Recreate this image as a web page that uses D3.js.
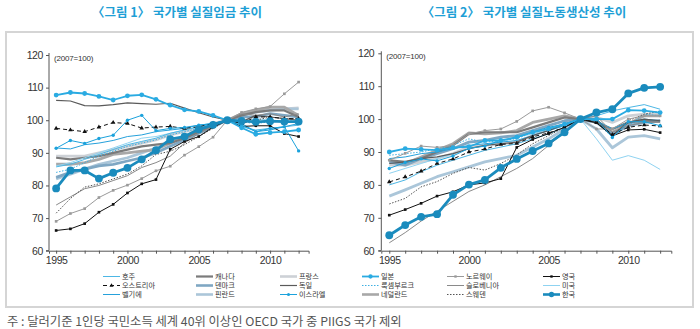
<!DOCTYPE html>
<html>
<head>
<meta charset="utf-8">
<script src="https://cdn.jsdelivr.net/npm/d3@7"></script>
<style>
  html, body { margin: 0; padding: 0; background: #fff; }
  svg { display: block; }
  text { font-family: "Liberation Sans", Arial, sans-serif; }
  .kr { font-family: "Noto Sans CJK KR", "Noto Sans", sans-serif; }
  .kr-small { font-family: "Liberation Sans", "Noto Sans CJK KR", sans-serif; }
</style>
</head>
<body>
<svg id="chart" width="700" height="329"></svg>
<script>
// ---- data: index values (2007 = 100), 1995–2012 ----
const years = d3.range(1995, 2013);
const xTickLabels = [1995, 2000, 2005, 2010];
const yTicks = [60, 70, 80, 90, 100, 110, 120];

const countryCodes = ["AUS","AUT","BEL","CAN","DNK","FIN","FRA","DEU","ISR","JPN","LUX","NLD","NOR","SVN","SWE","GBR","USA","KOR"];
const countryNames = ["호주","오스트리아","벨기에","캐나다","덴마크","핀란드","프랑스","독일","이스라엘","일본","룩셈부르크","네덜란드","노르웨이","슬로베니아","스웨덴","영국","미국","한국"];

// real wages
const wageAUS = [85.7, 86.5, 88, 89.5, 91, 92.5, 93.5, 94.5, 96, 97, 98, 99, 100, 98, 97, 97.5, 98, 98.5];
const wageAUT = [97.5, 97.0, 96.5, 97.9, 99.3, 99.0, 97.6, 97.9, 98.1, 97.5, 98.0, 99.0, 100, 99.0, 101.0, 101.0, 100.5, 100.5];
const wageBEL = [91.5, 91.2, 92.5, 93, 93.8, 95, 95.5, 96.5, 97, 97.5, 98.5, 99, 100, 99, 96.5, 97, 98, 99];
const wageCAN = [88.5, 88, 88.5, 89, 90, 91, 92, 92.5, 93, 94.5, 96.5, 98.5, 100, 101.5, 102.5, 103, 103, 101];
const wageDNK = [82.5, 84, 85, 86, 86.5, 87.5, 88.5, 90, 92, 94, 96, 98, 100, 101, 101, 102, 101.5, 101];
const wageFIN = [82, 83.5, 85, 86.5, 87.5, 88.5, 90, 91.5, 93, 95, 96.5, 98.5, 100, 101.5, 102.5, 103, 103.5, 103.5];
const wageFRA = [89, 89, 89, 90, 91, 92, 93, 94, 95.5, 96.5, 97.5, 99, 100, 101.5, 103, 103.5, 103.5, 103.8];
const wageDEU = [106.1, 105.9, 104.5, 104.4, 104.8, 105.3, 105.1, 104.9, 105.2, 103.7, 102.3, 101, 100, 99.5, 101.5, 101, 100.5, 100];
const wageISR = [91.4, 93.8, 92.9, 94.4, 95.4, 100, 101.5, 96.8, 97.5, 97.8, 98.5, 99, 100, 98.5, 96.5, 97.5, 98, 90.6];
const wageJPN = [107.7, 108.5, 108.2, 107.3, 106.2, 107.5, 107.8, 106.4, 104.6, 103.2, 102.7, 101.5, 100, 97.7, 95.7, 96.2, 96.5, 97];
const wageLUX = [84, 85, 87, 89, 90.5, 92, 93, 94, 95.5, 96.5, 97.5, 99, 100, 99.5, 99, 99.5, 100, 99.5];
const wageNLD = [86.5, 86.5, 87, 88, 89.5, 90, 90.5, 91, 93, 95, 97, 98.5, 100, 102, 103, 104, 104, 101.5];
const wageNOR = [69.0, 71.4, 72.9, 76.3, 78.5, 80.1, 82.1, 84.5, 85.9, 89.3, 91.9, 94.8, 100, 102.4, 103.5, 104.2, 108.1, 111.7];
const wageSVN = [74, 76.5, 79, 80, 81.5, 83, 85.5, 87, 89, 93, 96, 98, 100, 102, 101.5, 102, 101, 102];
const wageSWE = [71.5, 76, 79.5, 80.5, 82, 83.5, 86, 89.5, 90.5, 92.5, 95, 97.5, 100, 99, 100, 101, 100.5, 100.5];
const wageGBR = [66.2, 66.7, 68.3, 71.8, 74.2, 77.7, 80.5, 81.8, 91.1, 93.5, 95.0, 97.9, 100, 98.1, 98.3, 98.3, 95.9, 95.0];
const wageUSA = [86, 87, 88.5, 90, 91.5, 93, 94.5, 95, 96, 97, 98, 99, 100, 99.5, 100.5, 100, 99.5, 99.5];
const wageKOR = [79.1, 84.6, 84.6, 82.1, 83.9, 85.4, 88.0, 90.8, 94.2, 95.0, 97.2, 98.6, 100, 99.8, 99.5, 99.7, 99.6, 99.6];

// real labour productivity
const prodAUS = [80, 81.5, 84, 86, 87.5, 89, 90.5, 91.5, 92.5, 94, 95.5, 97.5, 100, 101, 102.5, 103.5, 104.4, 103];
const prodAUT = [80.9, 82.4, 84.2, 86.5, 87.9, 90.0, 90.9, 92.3, 92.6, 94.6, 95.8, 97.5, 100, 99, 95.3, 97.5, 98.2, 97.9];
const prodBEL = [88, 88.5, 89.5, 90, 91, 92, 92.5, 93, 93.5, 95, 96.5, 98, 100, 99.5, 97, 99, 100, 99.5];
const prodCAN = [87.5, 87, 88, 90, 92, 95.5, 96, 96, 96, 97.5, 99, 100.5, 100, 99, 97, 99, 99.5, 99.5];
const prodDNK = [87, 86, 88, 89.5, 91, 93, 93.5, 94.5, 95, 96.5, 98, 99.5, 100, 99, 95.5, 98, 99, 99.5];
const prodFIN = [76.6, 78.5, 80.5, 82.5, 84, 85.5, 87, 88, 89, 91.5, 94, 97, 100, 97, 91.3, 94.5, 95, 94];
const prodFRA = [86, 86, 87, 88, 89.5, 91.5, 92, 92.5, 93, 95, 97, 98.5, 100, 100.5, 99, 101, 101.5, 101.5];
const prodDEU = [86.5, 87, 88, 88.5, 89.5, 91, 92, 92.5, 93, 95, 96.5, 98.5, 100, 100, 95, 99, 100, 99.5];
const prodISR = [85.0, 86.8, 87.9, 87.3, 88.8, 91.1, 91.8, 93.6, 94.3, 96.1, 97.5, 98.5, 100, 100, 94.4, 99.2, 99.2, 98];
const prodJPN = [90.0, 91.0, 90.8, 90.6, 91.3, 91.6, 93.5, 93.5, 94.5, 96, 97, 98.5, 100, 100, 100, 102.7, 102.6, 102];
const prodLUX = [89, 89.5, 90, 91, 92, 94, 93, 93.5, 94, 96, 97, 98.5, 100, 99, 94.5, 98, 101.5, 101];
const prodNLD = [87, 86.5, 88.5, 90.5, 92.5, 95.8, 95.5, 95.8, 96.5, 99, 100, 101, 100, 99.5, 96, 98.5, 101, 101];
const prodNOR = [87.5, 89.6, 91.8, 91.4, 92, 95.5, 96.5, 97, 99.3, 102.5, 103.6, 101.9, 100, 97, 97, 100, 101, 101];
const prodSVN = [62.4, 65.5, 69, 72, 75, 78, 80, 82.5, 85, 88, 92, 96, 100, 101, 96, 98, 99, 99];
const prodSWE = [74.2, 75.9, 79.4, 81, 83.5, 85.3, 84.5, 86.5, 89.1, 92.5, 95, 97.5, 100, 99, 95, 99.5, 101.5, 102.4];
const prodGBR = [70.8, 72.5, 74.4, 76.6, 77.9, 80, 80.6, 81.9, 91.4, 93.8, 95.6, 97.5, 100, 98.9, 94.9, 96.7, 96.9, 95.9];
const prodUSA = [83.5, 85, 86.5, 88, 89.5, 91, 92, 93, 94.5, 95.5, 96.5, 98, 100, 94, 87.5, 88.9, 87.5, 84.7];
const prodKOR = [64.7, 67.8, 70.3, 71.1, 77.0, 80.1, 81.5, 85.2, 87.9, 90.3, 92.6, 96.0, 100, 102.0, 103.0, 107.8, 109.5, 109.8];

const wageSeries = [wageAUS, wageAUT, wageBEL, wageCAN, wageDNK, wageFIN, wageFRA, wageDEU, wageISR, wageJPN, wageLUX, wageNLD, wageNOR, wageSVN, wageSWE, wageGBR, wageUSA, wageKOR];
const prodSeries = [prodAUS, prodAUT, prodBEL, prodCAN, prodDNK, prodFIN, prodFRA, prodDEU, prodISR, prodJPN, prodLUX, prodNLD, prodNOR, prodSVN, prodSWE, prodGBR, prodUSA, prodKOR];

// ---- line styles per country ----
const styles = {
  AUS: { color: "#4db7e5", width: 1 },
  AUT: { color: "#111", width: 1, dash: "4,3", marker: "triangle", msize: 9 },
  BEL: { color: "#26a1db", width: 1 },
  CAN: { color: "#7b7b7b", width: 2.2 },
  DNK: { color: "#7fa7c3", width: 2.8 },
  FIN: { color: "#abc6d9", width: 2.8 },
  FRA: { color: "#cdd1d6", width: 2.8 },
  DEU: { color: "#5a5a5a", width: 1.2 },
  ISR: { color: "#1ba2dc", width: 1, marker: "circle", msize: 9 },
  JPN: { color: "#2aabe2", width: 1.8, marker: "circle", msize: 18 },
  LUX: { color: "#3fb0e2", width: 1, dash: "1.5,1.5" },
  NLD: { color: "#a8a8a8", width: 2.8 },
  NOR: { color: "#9a9a9a", width: 1, marker: "square", msize: 7 },
  SVN: { color: "#8a8a8a", width: 1 },
  SWE: { color: "#555", width: 1, dash: "1.5,1.5" },
  GBR: { color: "#111", width: 1, marker: "square", msize: 7 },
  USA: { color: "#8fd3f1", width: 1 },
  KOR: { color: "#1a8bbd", width: 2.8, marker: "circle", msize: 48 }
};
// drawing order: broad pale lines under thin and marked lines
const drawOrder = ["FRA","FIN","NLD","DNK","CAN","USA","AUS","BEL","LUX","SVN","DEU","SWE","NOR","GBR","AUT","ISR","JPN","KOR"];

const svg = d3.select("#chart");

// outer frame
svg.append("rect")
  .attr("x", 6).attr("y", 32).attr("width", 687).attr("height", 275)
  .attr("fill", "none").attr("stroke", "#d5d5d5").attr("stroke-width", 2);

const symbolType = { circle: d3.symbolCircle, square: d3.symbolSquare, triangle: d3.symbolTriangle };

function drawPanel(opts) {
  const g = svg.append("g");
  const x = d3.scaleLinear().domain([1994.5, 2012.7]).range(opts.xRange);
  const y = d3.scaleLinear().domain([60, 120]).range(opts.yRange);

  // title
  svg.append("text").attr("class", "kr")
    .attr("x", opts.titleX).attr("y", 17)
    .attr("text-anchor", "middle")
    .attr("font-size", 12.5).attr("font-weight", 700)
    .attr("fill", "#1e9fd6")
    .text(opts.title);

  // axes
  const xAxis = d3.axisBottom(x)
    .tickValues(years)
    .tickSize(3).tickPadding(3)
    .tickFormat(d => xTickLabels.includes(d) ? d : "");
  const gx = g.append("g").attr("transform", `translate(0,${opts.yRange[0]})`).call(xAxis);
  gx.select(".domain").attr("stroke", "#555");
  gx.selectAll(".tick line").attr("stroke", "#555");
  gx.selectAll("text").attr("font-size", 10.5).attr("fill", "#333")
    .attr("font-family", "Liberation Sans, Arial, sans-serif").attr("letter-spacing", -0.4);

  const yAxis = d3.axisLeft(y).tickValues(yTicks).tickSize(3).tickPadding(opts.yPad);
  const gy = g.append("g").attr("transform", `translate(${opts.xRange[0]},0)`).call(yAxis);
  gy.select(".domain").attr("d", `M-3,${y(60)}H0V${y(120) - 2}`).attr("stroke", "#555");
  gy.selectAll(".tick line").attr("stroke", "#555");
  gy.selectAll("text").attr("font-size", 10.5).attr("fill", "#333")
    .attr("font-family", "Liberation Sans, Arial, sans-serif").attr("letter-spacing", -0.4);

  g.append("text")
    .attr("x", opts.xRange[0] + 5).attr("y", y(120) + 6)
    .attr("font-size", 8).attr("fill", "#333").attr("letter-spacing", -0.2)
    .text("(2007=100)");

  const line = d3.line().x((d, i) => x(years[i])).y(d => y(d));

  drawOrder.forEach(code => {
    const idx = countryCodes.indexOf(code);
    const vals = opts.series[idx];
    const s = styles[code];
    g.append("path")
      .datum(vals)
      .attr("d", line)
      .attr("fill", "none")
      .attr("stroke", s.color)
      .attr("stroke-width", s.width)
      .attr("stroke-dasharray", s.dash || null)
      .attr("stroke-linejoin", "round");
    if (s.marker) {
      g.append("g").selectAll("path")
        .data(vals)
        .join("path")
        .attr("transform", (d, i) => `translate(${x(years[i])},${y(d)})`)
        .attr("d", d3.symbol().type(symbolType[s.marker]).size(s.msize))
        .attr("fill", s.color);
    }
  });
}

drawPanel({
  title: "〈그림 1〉 국가별 실질임금 추이",
  titleX: 177,
  xRange: [49, 308.6],
  yRange: [250.7, 55],
  yPad: 3,
  series: wageSeries
});

drawPanel({
  title: "〈그림 2〉 국가별 실질노동생산성 추이",
  titleX: 524,
  xRange: [381.3, 671.3],
  yRange: [250.7, 53.3],
  yPad: 4,
  series: prodSeries
});

// legend: 6 columns x 3 rows
const legendCols = [103, 196, 280, 362, 447, 543];
const legendRows = [276.5, 285.5, 294.5];
const lg = svg.append("g");
countryCodes.forEach((code, i) => {
  const cx = legendCols[Math.floor(i / 3)];
  const cy = legendRows[i % 3];
  const s = styles[code];
  lg.append("line")
    .attr("x1", cx).attr("x2", cx + 17).attr("y1", cy).attr("y2", cy)
    .attr("stroke", s.color).attr("stroke-width", Math.min(s.width, 2.6))
    .attr("stroke-dasharray", s.dash || null);
  if (s.marker) {
    lg.append("path")
      .attr("transform", `translate(${cx + 8.5},${cy})`)
      .attr("d", d3.symbol().type(symbolType[s.marker]).size(code === "KOR" ? 22 : s.msize * 0.8))
      .attr("fill", s.color);
  }
  lg.append("text").attr("class", "kr-small")
    .attr("x", cx + 19).attr("y", cy + 2.6)
    .attr("font-size", 7.2).attr("fill", "#333")
    .text(countryNames[i]);
});

// footnote
svg.append("text").attr("class", "kr")
  .attr("x", 7).attr("y", 326)
  .attr("font-size", 12.3).attr("fill", "#555")
  .text("주 : 달러기준 1인당 국민소득 세계 40위 이상인 OECD 국가 중 PIIGS 국가 제외");
</script>
</body>
</html>
